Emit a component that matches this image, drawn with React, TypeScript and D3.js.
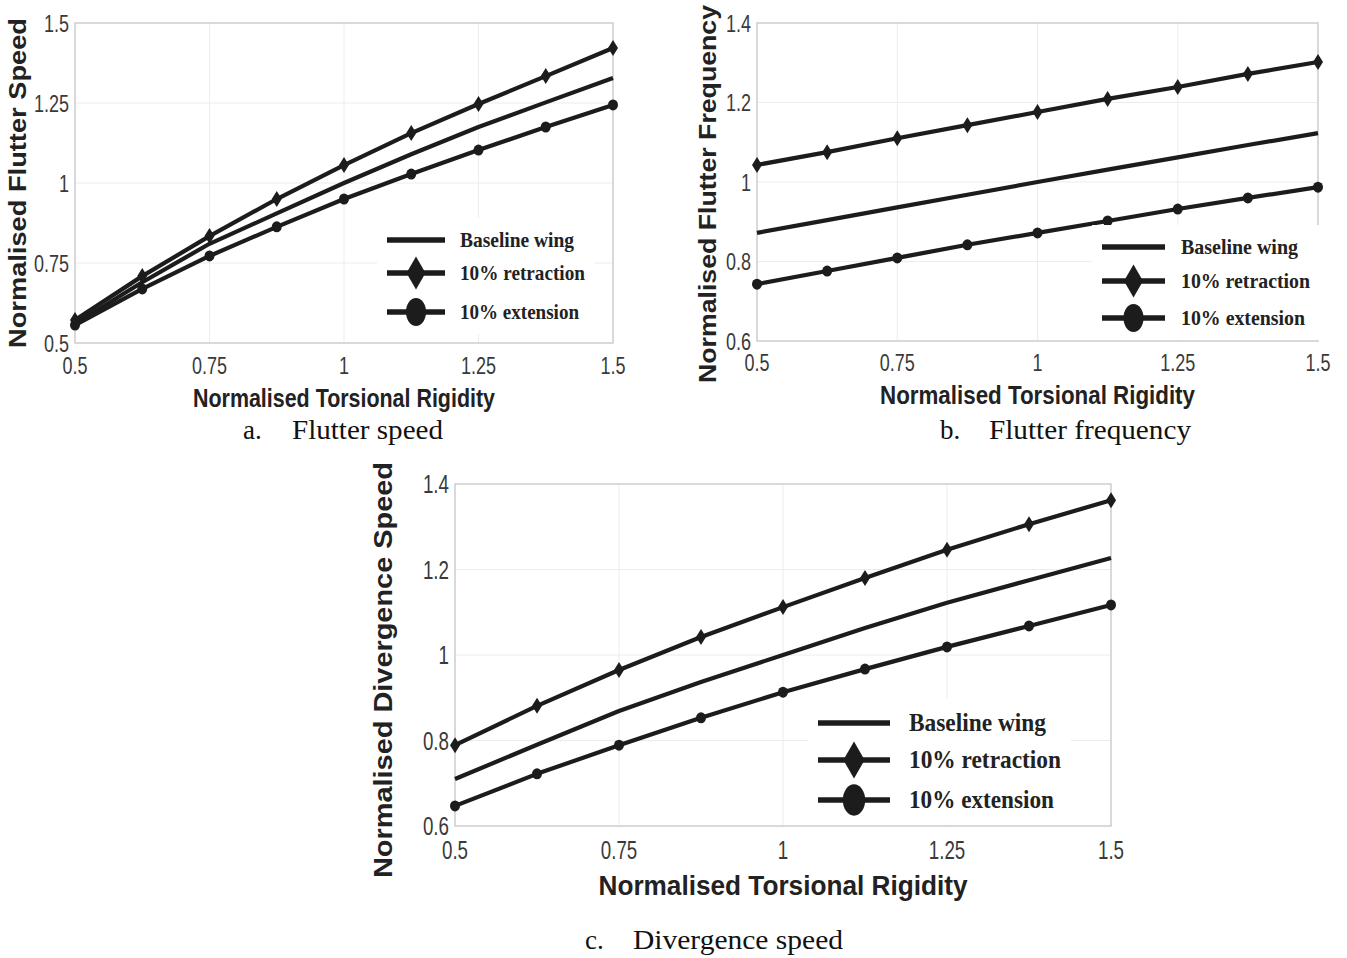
import { useEffect, useRef } from "react";
import * as d3 from "d3";

// torsional rigidity sample points (same for every panel)
const rigidity = [0.5, 0.625, 0.75, 0.875, 1, 1.125, 1.25, 1.375, 1.5];
const xTicks = [0.5, 0.75, 1, 1.25, 1.5];

// a. flutter speed
const speedBaseline = [0.56, 0.69, 0.81, 0.905, 1.0, 1.09, 1.175, 1.252, 1.328];
const speedRetraction = [0.572, 0.709, 0.834, 0.95, 1.056, 1.156, 1.247, 1.334, 1.422];
const speedExtension = [0.556, 0.669, 0.772, 0.863, 0.95, 1.028, 1.103, 1.175, 1.244];
const speedTicks = [0.5, 0.75, 1, 1.25, 1.5];

// b. flutter frequency
const freqBaseline = [0.872, 0.904, 0.936, 0.968, 1.0, 1.031, 1.062, 1.093, 1.123];
const freqRetraction = [1.043, 1.075, 1.11, 1.143, 1.176, 1.209, 1.239, 1.272, 1.302];
const freqExtension = [0.743, 0.776, 0.809, 0.842, 0.872, 0.902, 0.932, 0.96, 0.987];
const freqTicks = [0.6, 0.8, 1, 1.2, 1.4];

// c. divergence speed
const divBaseline = [0.71, 0.79, 0.869, 0.937, 1.0, 1.063, 1.122, 1.175, 1.227];
const divRetraction = [0.789, 0.881, 0.965, 1.042, 1.112, 1.18, 1.246, 1.306, 1.362];
const divExtension = [0.647, 0.722, 0.789, 0.853, 0.913, 0.967, 1.019, 1.068, 1.117];
const divTicks = [0.6, 0.8, 1, 1.2, 1.4];

const legendLabels = ["Baseline wing", "10% retraction", "10% extension"];

const INK = "#1c1c1c";
const SANS = "'Liberation Sans', Arial, sans-serif";
const SERIF = "'Liberation Serif', 'Times New Roman', serif";

const panels = [
  {
    box: { l: 75, r: 613, t: 23, b: 343 },
    yDomain: [0.5, 1.5],
    yTicks: speedTicks,
    series: [speedBaseline, speedRetraction, speedExtension],
    yTitle: "Normalised Flutter Speed",
    yTitlePos: { x: 26, y: 183, len: 330, size: 23 },
    xTitlePos: { y: 407, len: 302, size: 25 },
    tickSize: 24,
    tickOff: 31,
    legend: { x: 387, w: 58, rows: [240, 273, 312], tx: 460, lens: [114, 125, 119], size: 22, mk: 1 },
    caption: { lx: 243, tx: 292, y: 439, label: "a.", text: "Flutter speed", len: 151 },
  },
  {
    box: { l: 757, r: 1318, t: 23, b: 341 },
    yDomain: [0.6, 1.4],
    yTicks: freqTicks,
    series: [freqBaseline, freqRetraction, freqExtension],
    yTitle: "Normalised Flutter Frequency",
    yTitlePos: { x: 716, y: 194, len: 378, size: 23 },
    xTitlePos: { y: 404, len: 315, size: 25 },
    tickSize: 24,
    tickOff: 30,
    legend: { x: 1102, w: 63, rows: [247, 281, 318], tx: 1181, lens: [117, 129, 124], size: 22, mk: 1 },
    caption: { lx: 940, tx: 989, y: 439, label: "b.", text: "Flutter frequency", len: 202 },
  },
  {
    box: { l: 455, r: 1111, t: 484, b: 826 },
    yDomain: [0.6, 1.4],
    yTicks: divTicks,
    series: [divBaseline, divRetraction, divExtension],
    yTitle: "Normalised Divergence Speed",
    yTitlePos: { x: 392, y: 670, len: 416, size: 25 },
    xTitlePos: { y: 895, len: 369, size: 27 },
    tickSize: 25,
    tickOff: 33,
    legend: { x: 818, w: 72, rows: [723, 760, 800], tx: 909, lens: [137, 152, 145], size: 25, mk: 1.12 },
    caption: { lx: 585, tx: 633, y: 949, label: "c.", text: "Divergence speed", len: 210 },
  },
];

const App = () => {
  const svgRef = useRef<SVGSVGElement>(null);

  useEffect(() => {
    const svg = d3.select(svgRef.current);
    svg.selectAll("*").remove();

    panels.forEach((p) => {
      const g = svg.append("g");
      const xScale = d3.scaleLinear().domain([0.5, 1.5]).range([p.box.l, p.box.r]);
      const yScale = d3.scaleLinear().domain(p.yDomain).range([p.box.b, p.box.t]);

      // grid
      g.selectAll(".vgrid")
        .data(xTicks)
        .join("line")
        .attr("x1", (d) => xScale(d))
        .attr("x2", (d) => xScale(d))
        .attr("y1", p.box.t)
        .attr("y2", p.box.b)
        .attr("stroke", "#ececec");
      g.selectAll(".hgrid")
        .data(p.yTicks)
        .join("line")
        .attr("x1", p.box.l)
        .attr("x2", p.box.r)
        .attr("y1", (d) => yScale(d))
        .attr("y2", (d) => yScale(d))
        .attr("stroke", "#ececec");
      g.append("rect")
        .attr("x", p.box.l)
        .attr("y", p.box.t)
        .attr("width", p.box.r - p.box.l)
        .attr("height", p.box.b - p.box.t)
        .attr("fill", "none")
        .attr("stroke", "#cfcfcf")
        .attr("stroke-width", 1.5);

      // tick labels (narrow look: squeeze horizontally)
      const capH = p.tickSize * 0.36;
      g.selectAll(".xt")
        .data(xTicks)
        .join("text")
        .attr("transform", (d) => `translate(${xScale(d)},${p.box.b + p.tickOff}) scale(0.75,1)`)
        .attr("text-anchor", "middle")
        .attr("font-family", SANS)
        .attr("font-size", p.tickSize)
        .attr("fill", "#3a3a3a")
        .text((d) => String(d));
      g.selectAll(".yt")
        .data(p.yTicks)
        .join("text")
        .attr("transform", (d) => `translate(${p.box.l - 6},${yScale(d) + capH}) scale(0.75,1)`)
        .attr("text-anchor", "end")
        .attr("font-family", SANS)
        .attr("font-size", p.tickSize)
        .attr("fill", "#3a3a3a")
        .text((d) => String(d));

      // axis titles
      g.append("text")
        .attr("x", (p.box.l + p.box.r) / 2)
        .attr("y", p.xTitlePos.y)
        .attr("text-anchor", "middle")
        .attr("font-family", SANS)
        .attr("font-weight", "bold")
        .attr("font-size", p.xTitlePos.size)
        .attr("fill", "#222")
        .attr("textLength", p.xTitlePos.len)
        .attr("lengthAdjust", "spacingAndGlyphs")
        .text("Normalised Torsional Rigidity");
      g.append("text")
        .attr("transform", `translate(${p.yTitlePos.x},${p.yTitlePos.y}) rotate(-90)`)
        .attr("text-anchor", "middle")
        .attr("font-family", SANS)
        .attr("font-weight", "bold")
        .attr("font-size", p.yTitlePos.size)
        .attr("fill", "#222")
        .attr("textLength", p.yTitlePos.len)
        .attr("lengthAdjust", "spacingAndGlyphs")
        .text(p.yTitle);

      // series lines
      const line = d3
        .line<number>()
        .x((_, i) => xScale(rigidity[i]))
        .y((d) => yScale(d));
      g.selectAll(".series")
        .data(p.series)
        .join("path")
        .attr("d", (d) => line(d))
        .attr("fill", "none")
        .attr("stroke", INK)
        .attr("stroke-width", 4.2)
        .attr("stroke-linejoin", "round");

      // markers
      const diamond = (cx: number, cy: number, w: number, h: number) =>
        `M${cx},${cy - h / 2}L${cx + w / 2},${cy}L${cx},${cy + h / 2}L${cx - w / 2},${cy}Z`;
      g.selectAll(".dia")
        .data(p.series[1])
        .join("path")
        .attr("d", (d, i) => diamond(xScale(rigidity[i]), yScale(d), 10, 16))
        .attr("fill", INK);
      g.selectAll(".dot")
        .data(p.series[2])
        .join("ellipse")
        .attr("cx", (_, i) => xScale(rigidity[i]))
        .attr("cy", (d) => yScale(d))
        .attr("rx", 5)
        .attr("ry", 5.5)
        .attr("fill", INK);

      // legend
      const L = p.legend;
      const lg = g.append("g");
      lg.append("rect")
        .attr("x", L.x - 10)
        .attr("y", L.rows[0] - 22 * L.mk)
        .attr("width", L.tx + L.lens[1] - L.x + 20)
        .attr("height", L.rows[2] - L.rows[0] + 44 * L.mk)
        .attr("fill", "white");
      L.rows.forEach((ry, i) => {
        lg.append("line")
          .attr("x1", L.x)
          .attr("x2", L.x + L.w)
          .attr("y1", ry)
          .attr("y2", ry)
          .attr("stroke", INK)
          .attr("stroke-width", 5.5);
        const cx = L.x + L.w / 2;
        if (i === 1)
          lg.append("path").attr("d", diamond(cx, ry, 19 * L.mk, 33 * L.mk)).attr("fill", INK);
        if (i === 2)
          lg.append("ellipse")
            .attr("cx", cx)
            .attr("cy", ry)
            .attr("rx", 10 * L.mk)
            .attr("ry", 14 * L.mk)
            .attr("fill", INK);
        lg.append("text")
          .attr("x", L.tx)
          .attr("y", ry + L.size * 0.3)
          .attr("font-family", SERIF)
          .attr("font-weight", "bold")
          .attr("font-size", L.size)
          .attr("fill", "#222")
          .attr("textLength", L.lens[i])
          .attr("lengthAdjust", "spacingAndGlyphs")
          .text(legendLabels[i]);
      });

      // caption
      const C = p.caption;
      g.append("text")
        .attr("x", C.lx)
        .attr("y", C.y)
        .attr("font-family", SERIF)
        .attr("font-size", 27)
        .attr("fill", "#111")
        .text(C.label);
      g.append("text")
        .attr("x", C.tx)
        .attr("y", C.y)
        .attr("font-family", SERIF)
        .attr("font-size", 27)
        .attr("fill", "#111")
        .attr("textLength", C.len)
        .attr("lengthAdjust", "spacingAndGlyphs")
        .text(C.text);
    });
  }, []);

  return (
    <svg
      ref={svgRef}
      width={1347}
      height={958}
      style={{ position: "absolute", left: 0, top: 0, background: "white" }}
    ></svg>
  );
};

export default App;
